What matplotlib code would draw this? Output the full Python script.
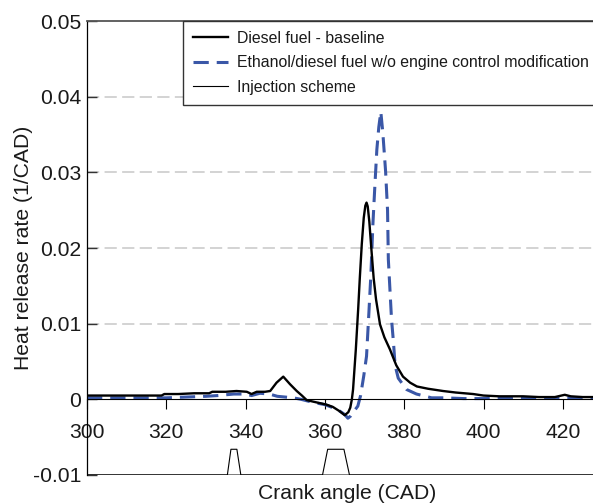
import matplotlib
matplotlib.use('Agg')
import matplotlib.pyplot as plt

# ---------------- data ----------------
crank_diesel = [300, 305, 310, 315, 318.8, 319.5, 323, 327, 330.8, 331.6,
                335, 337.7, 340.3, 341.5, 342.8, 344.9, 346.2, 347.8, 349.5, 351.2,
                352.9, 354.2, 355.4, 357, 360.4, 362, 363.8, 365.0, 365.9, 366.4,
                366.8, 367.1, 367.8, 368.4, 368.8, 369.3, 369.8, 370.2, 370.5, 370.8,
                371.2, 371.7, 372.3, 372.9, 373.9, 375.0, 376.4, 378.0, 379.7, 381.5,
                383.2, 386, 389.8, 393, 397.4, 400, 404, 410, 414, 418,
                420.5, 422, 425, 428, 431]
hrr_diesel = [0.0005, 0.0005, 0.0005, 0.0005, 0.0005, 0.0007, 0.0007, 0.0008, 0.0008, 0.0010,
              0.0010, 0.0011, 0.0010, 0.0007, 0.0010, 0.0010, 0.0011, 0.0022, 0.0030, 0.0020,
              0.0011, 0.0005, -0.0001, -0.0003, -0.0007, -0.0010, -0.0016, -0.0021, -0.0017, -0.0011,
              0.0000, 0.0013, 0.0066, 0.0120, 0.0160, 0.0205, 0.0240, 0.0256, 0.0260, 0.0255,
              0.0235, 0.0200, 0.0160, 0.0132, 0.0099, 0.0082, 0.0066, 0.0045, 0.0030, 0.0022,
              0.0017, 0.0014, 0.0011, 0.0009, 0.0007, 0.0005, 0.0004, 0.0004, 0.0003, 0.0003,
              0.0006, 0.0004, 0.0003, 0.0003, 0.0003]

crank_ethanol = [300, 305, 310, 315, 320, 325, 330, 333, 335, 337,
                 340, 341.5, 343.6, 346, 348, 350, 352, 354, 357, 360,
                 363, 365, 365.8, 366.5, 367.3, 368.3, 369.0, 369.8, 370.5, 371.1,
                 371.6, 372.1, 372.6, 373.1, 373.6, 374.1, 374.6, 375.3, 375.8, 376.0,
                 376.8, 377.3, 377.7, 378.5, 380.6, 383.1, 386.9, 390, 395, 400,
                 405, 410, 415, 420, 425, 431]
hrr_ethanol = [0.0002, 0.0002, 0.0002, 0.0002, 0.0002, 0.0003, 0.0004, 0.0005, 0.0006, 0.0007,
               0.0007, 0.0005, 0.0008, 0.0007, 0.0004, 0.0003, 0.0002, 0.0000, -0.0004, -0.0007,
               -0.0013, -0.0020, -0.0025, -0.0022, -0.0016, -0.0009, 0.0005, 0.0031, 0.0057, 0.0115,
               0.0165, 0.0231, 0.0282, 0.0330, 0.0360, 0.0380, 0.0353, 0.0302, 0.0250, 0.0185,
               0.0106, 0.0075, 0.0045, 0.0028, 0.0013, 0.0007, 0.0002, 0.0002, 0.0001, 0.0001,
               0.0002, 0.0002, 0.0002, 0.0002, 0.0002, 0.0002]

crank_injection = [300, 335.4, 336.3, 337.8, 338.8, 359.4, 360.7, 364.8, 366.2, 431]
injection_signal = [-0.01, -0.01, -0.0066, -0.0066, -0.01, -0.01, -0.0066, -0.0066, -0.01, -0.01]

x_ticks = [300, 320, 340, 360, 380, 400, 420]
y_ticks = [-0.01, 0.0, 0.01, 0.02, 0.03, 0.04, 0.05]
y_tick_labels = ['-0.01', '0', '0.01', '0.02', '0.03', '0.04', '0.05']
grid_levels = [0.01, 0.02, 0.03, 0.04]

legend_labels = ['Diesel fuel - baseline',
                 'Ethanol/diesel fuel w/o engine control modification',
                 'Injection scheme']
x_label = 'Crank angle (CAD)'
y_label = 'Heat release rate (1/CAD)'

# ---------------- figure ----------------
plt.rcParams['font.family'] = ['Liberation Sans', 'DejaVu Sans']
plt.rcParams['axes.unicode_minus'] = False

W, H = 593, 503
FS = 15.2
fig = plt.figure(figsize=(W / 100, H / 100), dpi=100)
ax = fig.add_axes([87 / W, 1 - 475 / H, (607 - 87) / W, (475 - 21) / H])

ax.set_xlim(300, 300 + (607 - 87) / 3.965)
ax.set_ylim(-0.01, 0.05)

for g in grid_levels:
    ax.axhline(g, color='#c8c8c8', lw=1.1, dashes=(8, 3.5), zorder=0.5)

ax.axhline(-0.01, color='#707070', lw=2.0, zorder=1)

l1, = ax.plot(crank_diesel, hrr_diesel, color='black', lw=1.7, zorder=3,
              solid_joinstyle='round')
l2, = ax.plot(crank_ethanol, hrr_ethanol, color='#3A57A7', lw=2.2,
              dashes=(5, 2.6), zorder=2.5)
l3, = ax.plot(crank_injection, injection_signal, color='black', lw=0.8, zorder=3)

# spines
ax.spines['bottom'].set_position(('data', 0))
ax.spines['bottom'].set_linewidth(0.8)
ax.spines['bottom'].set_color('black')
ax.spines['left'].set_linewidth(0.9)
ax.spines['left'].set_color('black')
ax.spines['top'].set_color('#555555')
ax.spines['top'].set_linewidth(1.3)
ax.spines['right'].set_visible(False)

ax.set_xticks(x_ticks)
ax.set_xticklabels([str(v) for v in x_ticks])
ax.set_yticks(y_ticks)
ax.set_yticklabels(y_tick_labels)

ax.tick_params(axis='x', direction='out', length=7.2, width=0.8, pad=9.6,
               labelsize=FS, colors='black')
ax.tick_params(axis='y', direction='in', length=7.2, width=1.0, pad=4.0,
               labelsize=FS, color='#333333', labelcolor='black')
ax.tick_params(axis='both', labelcolor='#1a1a1a')

ax.set_xlabel(x_label, fontsize=FS, color='#1a1a1a')
ax.xaxis.set_label_coords(0.5, -0.02)
ax.set_ylabel(y_label, fontsize=FS, color='#1a1a1a')
ax.yaxis.set_label_coords(-0.104, 0.5)

leg = ax.legend([l1, l2, l3], legend_labels, loc='upper left',
                bbox_to_anchor=(183 / W, 1 - 21 / H), bbox_transform=fig.transFigure,
                borderaxespad=0, fontsize=11.4, frameon=True, fancybox=False,
                framealpha=1, edgecolor='#333333', borderpad=0.62,
                handlelength=2.2, handletextpad=0.57, labelspacing=0.6)
leg.get_frame().set_linewidth(1.0)
for t in leg.get_texts():
    t.set_color('#1a1a1a')

fig.savefig('out.png', dpi=100)
